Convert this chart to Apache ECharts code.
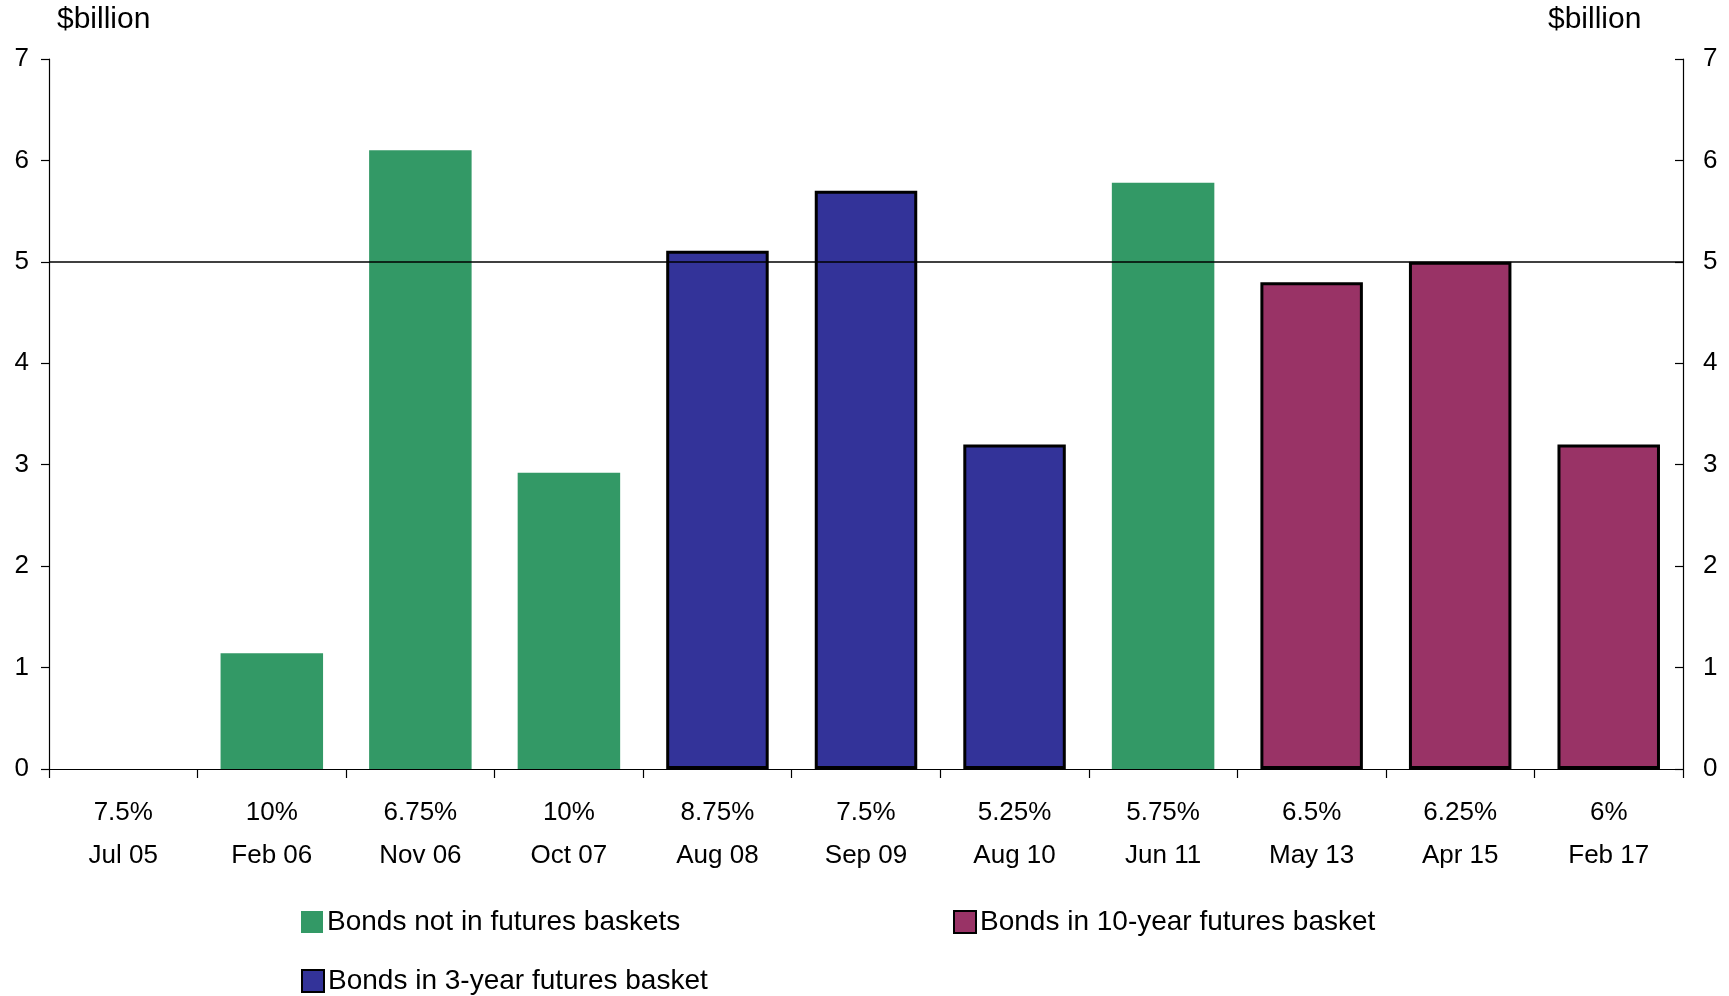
<!DOCTYPE html>
<html>
<head>
<meta charset="utf-8">
<script src="https://cdn.jsdelivr.net/npm/echarts@6/dist/echarts.min.js"></script>
<style>
html,body{margin:0;padding:0;background:#fff;}
#chart{width:1729px;height:996px;}
</style>
</head>
<body>
<div id="chart"></div>
<script>
// Data
const coupons = ['7.5%', '10%', '6.75%', '10%', '8.75%', '7.5%', '5.25%', '5.75%', '6.5%', '6.25%', '6%'];
const maturities = ['Jul 05', 'Feb 06', 'Nov 06', 'Oct 07', 'Aug 08', 'Sep 09', 'Aug 10', 'Jun 11', 'May 13', 'Apr 15', 'Feb 17'];
const notInBaskets = [null, 1.14, 6.1, 2.92, null, null, null, 5.78, null, null, null];
const in3YearBasket = [null, null, null, null, 5.11, 5.7, 3.2, null, null, null, null];
const in10YearBasket = [null, null, null, null, null, null, null, null, 4.8, 5.0, 3.2];
const seriesNames = ['Bonds not in futures baskets', 'Bonds in 10-year futures basket', 'Bonds in 3-year futures basket'];
const referenceLevel = 5;
const yTicks = {min: 0, max: 7, interval: 1};
const unitLabel = '$billion';

const categories = coupons.map((c, i) => c + '\n' + maturities[i]);
const FONT = '"Liberation Sans", Arial, sans-serif';

const chart = echarts.init(document.getElementById('chart'));
const yAxisCommon = {
  type: 'value', min: yTicks.min, max: yTicks.max, interval: yTicks.interval,
  splitLine: {show: false},
  axisLine: {show: true, lineStyle: {color: '#000', width: 1.2}},
  axisTick: {show: true, length: 8, lineStyle: {color: '#000', width: 1.2}},
  axisLabel: {color: '#000', fontSize: 26, fontFamily: FONT, margin: 20}
};
function legendAt(name, left, top) {
  return {
    data: [name], left: left, top: top, itemWidth: 22, itemHeight: 22,
    icon: 'rect', textStyle: {color: '#000', fontSize: 28, fontFamily: FONT, padding: [0,0,0,-1]},
    selectedMode: false
  };
}
chart.setOption({
  animation: false,
  backgroundColor: '#fff',
  grid: {left: 49, right: 46, top: 59, bottom: 227},
  graphic: [
    {type: 'text', left: 57, top: 5, style: {text: unitLabel, fontSize: 30, fontFamily: FONT, fill: '#000'}},
    {type: 'text', left: 1548, top: 5, style: {text: unitLabel, fontSize: 30, fontFamily: FONT, fill: '#000'}}
  ],
  legend: [
    legendAt(seriesNames[0], 296, 903),
    legendAt(seriesNames[1], 948, 903),
    legendAt(seriesNames[2], 296, 962)
  ],
  xAxis: {
    type: 'category', data: categories,
    axisLine: {show: true, lineStyle: {color: '#000', width: 1.2}},
    axisTick: {show: true, length: 9, alignWithLabel: false, lineStyle: {color: '#000', width: 1.2}},
    axisLabel: {color: '#000', fontSize: 26, fontFamily: FONT, lineHeight: 43, margin: 22, interval: 0}
  },
  yAxis: [
    Object.assign({}, yAxisCommon, {position: 'left'}),
    Object.assign({}, yAxisCommon, {position: 'right', axisTick: {show: true, inside: true, length: 8, lineStyle: {color: '#000', width: 1.2}}})
  ],
  series: [
    {name: seriesNames[0], type: 'bar', stack: 'b', barWidth: '69%', data: notInBaskets,
     itemStyle: {color: '#339966'}},
    {name: seriesNames[2], type: 'bar', stack: 'b', barWidth: '69%', data: in3YearBasket,
     itemStyle: {color: '#333399', borderColor: '#000', borderWidth: 3}},
    {name: seriesNames[1], type: 'bar', stack: 'b', barWidth: '69%', data: in10YearBasket,
     itemStyle: {color: '#993366', borderColor: '#000', borderWidth: 3}},
    {name: 'ref', type: 'bar', stack: 'b', barWidth: '69%', data: [], z: 10, silent: true,
     markLine: {silent: true, symbol: ['none', 'none'], label: {show: false},
       lineStyle: {color: '#000', width: 1.5, type: 'solid'}, data: [{yAxis: referenceLevel}]}}
  ]
});
</script>
</body>
</html>
